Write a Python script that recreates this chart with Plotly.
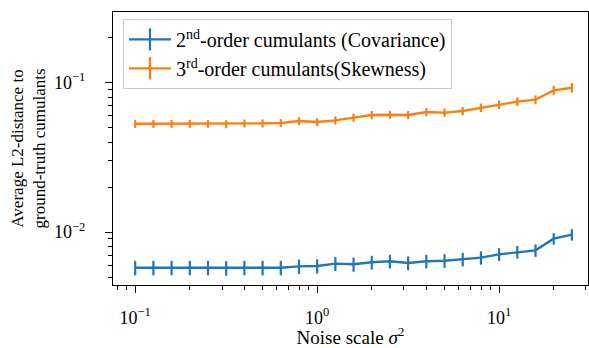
import numpy as np
import plotly.graph_objects as go

# Noise scales: 25 log-spaced values from 0.1 to ~25
noise_scale = [0.1, 0.1259, 0.1585, 0.1995, 0.2512, 0.3162, 0.3981, 0.5012, 0.631, 0.7943,
               1.0, 1.259, 1.585, 1.995, 2.512, 3.162, 3.981, 5.012, 6.31, 7.943,
               10.0, 12.59, 15.85, 19.95, 25.12]

cov_dist = [0.00577, 0.00577, 0.00577, 0.00577, 0.00577, 0.00574, 0.00577, 0.00577, 0.00577, 0.00589,
            0.00592, 0.00614, 0.00608, 0.00627, 0.00637, 0.00621, 0.00637, 0.00643, 0.00657, 0.00674,
            0.00709, 0.00735, 0.00754, 0.00903, 0.00960]
cov_err = [0.00064, 0.00064, 0.00064, 0.00064, 0.00064, 0.00064, 0.00064, 0.00064, 0.00064, 0.00065,
           0.00065, 0.00066, 0.00066, 0.00066, 0.00067, 0.00066, 0.00067, 0.00067, 0.00068, 0.00069,
           0.00070, 0.00071, 0.00072, 0.00080, 0.00084]

skew_dist = [0.0531, 0.0531, 0.0531, 0.0531, 0.0531, 0.0528, 0.0534, 0.0534, 0.0537, 0.0553,
             0.0545, 0.0559, 0.0583, 0.0607, 0.0610, 0.0607, 0.0636, 0.0630, 0.0646, 0.0680,
             0.0712, 0.0746, 0.0769, 0.0888, 0.0925]
skew_err = [0.0033, 0.0033, 0.0033, 0.0033, 0.0033, 0.0033, 0.0033, 0.0033, 0.0033, 0.0034,
            0.0034, 0.0035, 0.0036, 0.0038, 0.0038, 0.0038, 0.0040, 0.0040, 0.0041, 0.0044,
            0.0047, 0.0050, 0.0052, 0.0064, 0.0069]

labels = ["2<sup>nd</sup>-order cumulants (Covariance)",
          "3<sup>rd</sup>-order cumulants(Skewness)"]
colors = ["#1f77b4", "#ff7f0e"]

FONT = "'Liberation Serif', 'Times New Roman', 'DejaVu Serif', serif"

fig = go.Figure()
for yv, ev, col in [(cov_dist, cov_err, colors[0]), (skew_dist, skew_err, colors[1])]:
    fig.add_trace(go.Scatter(
        x=noise_scale, y=yv, mode="lines", showlegend=False,
        line=dict(color=col, width=2.4),
        error_y=dict(type="data", array=ev, visible=True, color=col, thickness=2.2, width=0),
    ))

# legend entries: line with a vertical bar, like an errorbar handle
for lab, col in zip(labels, colors):
    fig.add_trace(go.Scatter(
        x=[None], y=[None], mode="lines+markers", name=lab,
        line=dict(color=col, width=2.4),
        marker=dict(symbol="line-ns", size=18, color=col, line=dict(color=col, width=2.2)),
    ))

x_major = [0.1, 1, 10]
x_major_text = ["10<sup>−1</sup>", "10<sup>0</sup>", "10<sup>1</sup>"]
x_minor = [0.08, 0.09] + [m * 10.0 ** e for e in (-1, 0) for m in range(2, 10)] + [20, 30]
y_major = [0.01, 0.1]
y_major_text = ["10<sup>−2</sup>", "10<sup>−1</sup>"]
y_minor = [0.005, 0.006, 0.007, 0.008, 0.009] + [m * 0.01 for m in range(2, 10)] + [0.2]

axis_common = dict(
    showline=True, linecolor="black", linewidth=1.2, mirror=True,
    showgrid=False, zeroline=False, ticks="outside", ticklen=7, tickwidth=1.1,
    tickcolor="black", tickfont=dict(family=FONT, size=18, color="black"),
)
minor_common = dict(tickmode="array", ticks="outside", ticklen=4,
                    tickwidth=0.9, tickcolor="black", showgrid=False)

fig.update_xaxes(
    type="log", range=[np.log10(0.0755), np.log10(30.8)],
    tickmode="array", tickvals=x_major, ticktext=x_major_text,
    ticklabelstandoff=9,
    minor=dict(tickvals=x_minor, **minor_common),
    title=dict(text="Noise scale <i>σ</i><sup>2</sup>", font=dict(family=FONT, size=19, color="black"),
               standoff=6),
    **axis_common,
)
fig.update_yaxes(
    type="log", range=[np.log10(0.00442), np.log10(0.297)],
    tickmode="array", tickvals=y_major, ticktext=y_major_text,
    ticklabelstandoff=16,
    minor=dict(tickvals=y_minor, **minor_common),
    title=dict(text="Average L2-distance to<br>ground-truth cumulants",
               font=dict(family=FONT, size=17, color="black"), standoff=3),
    **axis_common,
)

fig.update_layout(
    width=589, height=348,
    margin=dict(l=113, r=1, t=12, b=63),
    paper_bgcolor="white", plot_bgcolor="white",
    font=dict(family=FONT, size=17, color="black"),
    legend=dict(x=0.021, y=0.975, xanchor="left", yanchor="top",
                bgcolor="rgba(255,255,255,0.85)", bordercolor="#cccccc", borderwidth=1,
                font=dict(family=FONT, size=20, color="black"),
                itemwidth=42, tracegroupgap=0),
)

fig.write_html("out.html")
